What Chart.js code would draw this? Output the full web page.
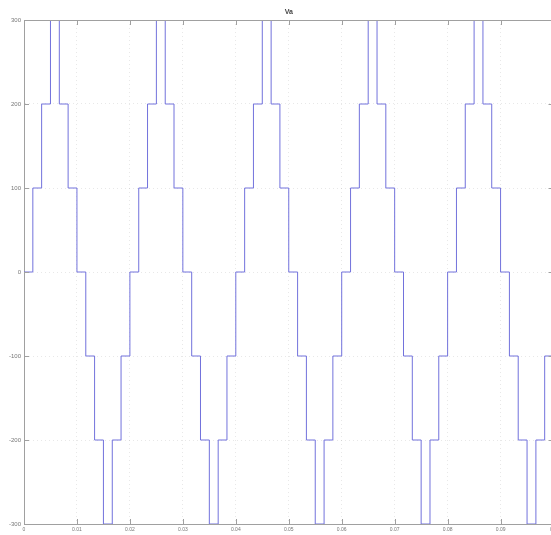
<!DOCTYPE html>
<html>
<head>
<meta charset="utf-8">
<script src="https://cdn.jsdelivr.net/npm/chart.js@4.4.1/dist/chart.umd.min.js"></script>
<style>
  html, body { margin: 0; padding: 0; background: #fff; overflow: hidden; }
  canvas { display: block; }
</style>
</head>
<body>
<canvas id="chart" width="560" height="535"></canvas>
<script>
// plot title
const titleText = 'Va';

// axis ticks
const xTicks = [0, 0.01, 0.02, 0.03, 0.04, 0.05, 0.06, 0.07, 0.08, 0.09, 0.1];
const yTicks = [-300, -200, -100, 0, 100, 200, 300];

// staircase output: time (s) where each level starts, and the level held from there
const switchTimes = [
  0, 0.00167, 0.00333, 0.005, 0.00667, 0.00833, 0.01, 0.01167, 0.01333, 0.015, 0.01667, 0.01833,
  0.02, 0.02167, 0.02333, 0.025, 0.02667, 0.02833, 0.03, 0.03167, 0.03333, 0.035, 0.03667, 0.03833,
  0.04, 0.04167, 0.04333, 0.045, 0.04667, 0.04833, 0.05, 0.05167, 0.05333, 0.055, 0.05667, 0.05833,
  0.06, 0.06167, 0.06333, 0.065, 0.06667, 0.06833, 0.07, 0.07167, 0.07333, 0.075, 0.07667, 0.07833,
  0.08, 0.08167, 0.08333, 0.085, 0.08667, 0.08833, 0.09, 0.09167, 0.09333, 0.095, 0.09667, 0.09833,
  0.1
];
const voltage = [
  0, 100, 200, 300, 200, 100, 0, -100, -200, -300, -200, -100,
  0, 100, 200, 300, 200, 100, 0, -100, -200, -300, -200, -100,
  0, 100, 200, 300, 200, 100, 0, -100, -200, -300, -200, -100,
  0, 100, 200, 300, 200, 100, 0, -100, -200, -300, -200, -100,
  0, 100, 200, 300, 200, 100, 0, -100, -200, -300, -200, -100,
  -100
];

const LINE_COLOR = '#7272dc';
const AXIS_COLOR = '#a0a0a0';
const GRID_COLOR = 'rgba(0,0,0,0.09)';
const TEXT_COLOR = '#777';

// box on the top/right side and inward ticks (matlab style)
const boxTicks = {
  id: 'boxTicks',
  afterDraw(chart) {
    const { ctx, chartArea: a, scales } = chart;
    ctx.save();
    ctx.strokeStyle = AXIS_COLOR;
    ctx.lineWidth = 1;
    ctx.beginPath();
    ctx.moveTo(a.left, a.top + 0.5); ctx.lineTo(a.right, a.top + 0.5);
    ctx.moveTo(a.right - 0.5, a.top); ctx.lineTo(a.right - 0.5, a.bottom);
    xTicks.forEach(v => {
      const px = Math.round(scales.x.getPixelForValue(v)) + 0.5;
      ctx.moveTo(px, a.bottom); ctx.lineTo(px, a.bottom - 5);
      ctx.moveTo(px, a.top); ctx.lineTo(px, a.top + 5);
    });
    yTicks.forEach(v => {
      const py = Math.round(scales.y.getPixelForValue(v)) + 0.5;
      ctx.moveTo(a.left, py); ctx.lineTo(a.left + 5, py);
      ctx.moveTo(a.right, py); ctx.lineTo(a.right - 5, py);
    });
    ctx.stroke();
    ctx.restore();
  }
};

new Chart(document.getElementById('chart'), {
  type: 'line',
  data: {
    datasets: [{
      label: titleText,
      data: switchTimes.map((t, i) => ({ x: t, y: voltage[i] })),
      stepped: true,
      borderColor: LINE_COLOR,
      borderWidth: 1,
      pointRadius: 0,
      fill: false
    }]
  },
  options: {
    responsive: false,
    devicePixelRatio: 1,
    animation: false,
    layout: { padding: { left: 0, right: 6, top: 0, bottom: 0 } },
    plugins: {
      legend: { display: false },
      tooltip: { enabled: false },
      title: {
        display: true,
        text: titleText,
        fullSize: false,
        color: '#444',
        font: { family: 'Liberation Sans', size: 7, lineHeight: 1 },
        padding: { top: 9, bottom: 4 }
      }
    },
    scales: {
      x: {
        type: 'linear',
        min: 0,
        max: 0.1,
        afterBuildTicks: s => { s.ticks = xTicks.map(v => ({ value: v })); },
        afterFit: s => { s.height = 11; },
        grid: { color: GRID_COLOR, drawTicks: false },
        border: { display: true, color: AXIS_COLOR, width: 1, dash: [1, 3] },
        ticks: {
          color: TEXT_COLOR,
          padding: 3,
          maxRotation: 0,
          autoSkip: false,
          font: { family: 'Liberation Sans', size: 5 },
          callback: v => String(v)
        }
      },
      y: {
        min: -300,
        max: 300,
        afterBuildTicks: s => { s.ticks = yTicks.map(v => ({ value: v })); },
        afterFit: s => { s.width = 24; },
        grid: { color: GRID_COLOR, drawTicks: false },
        border: { display: true, color: AXIS_COLOR, width: 1, dash: [1, 3] },
        ticks: {
          color: TEXT_COLOR,
          padding: 3,
          autoSkip: false,
          font: { family: 'Liberation Sans', size: 6 },
          callback: v => String(v)
        }
      }
    }
  },
  plugins: [boxTicks]
});
</script>
</body>
</html>
